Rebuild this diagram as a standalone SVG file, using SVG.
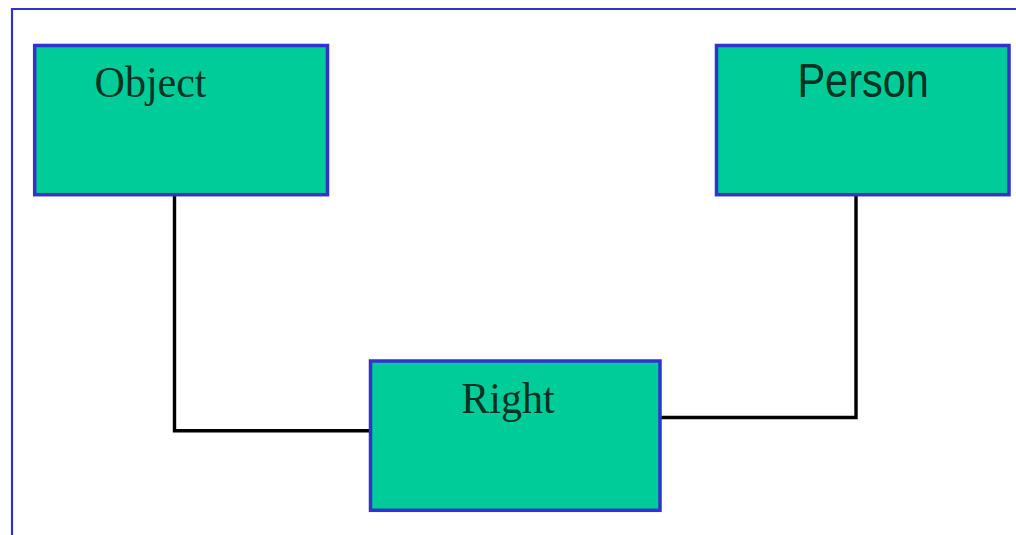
<svg xmlns="http://www.w3.org/2000/svg" width="1016" height="535" viewBox="0 0 1016 535">
<style>
.frame{stroke:#3333CC;stroke-width:2.2;fill:none}
.box{fill:#00CC99;stroke:#3333CC;stroke-width:3.5}
.conn{fill:none;stroke:#000000;stroke-width:3.4}
.serif{font-family:"Liberation Serif","Times New Roman",serif;font-size:42px;fill:#003322}
.sans{font-family:"Liberation Sans",Arial,sans-serif;font-size:41.5px;fill:#003322}
</style>
<rect width="1016" height="535" fill="#FFFFFF"/>
<g id="frame">
<path class="frame" d="M11,9 H1016 M12,8 V535"/>
</g>
<g id="connectors">
<path class="conn" d="M174.5,196 V430.8 H370.5"/>
<path class="conn" d="M856,196 V417.5 H660"/>
</g>
<g id="object">
<rect class="box" x="34.7" y="45.5" width="292.8" height="149.2"/>
<text class="serif" transform="translate(94.6,97) scale(1,1.06)">Object</text>
</g>
<g id="person">
<rect class="box" x="716.5" y="45.5" width="292.5" height="149.2"/>
<text class="sans" transform="translate(797.4,97.3) scale(1,1.14)">Person</text>
</g>
<g id="right">
<rect class="box" x="370.5" y="361" width="289.5" height="149.3"/>
<text class="serif" transform="translate(461.3,413) scale(1,1.06)">Right</text>
</g>
</svg>
